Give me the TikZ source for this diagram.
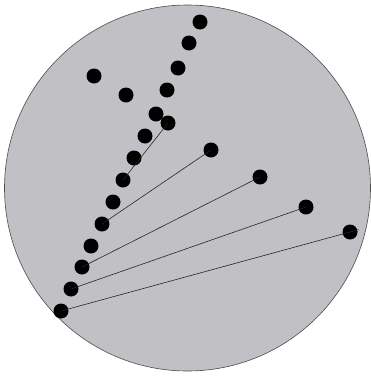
\documentclass[tikz,border=0pt]{standalone}
\usepackage{xcolor}
\usepackage{tikz}
\usetikzlibrary{calc}

\definecolor{discgray}{RGB}{193,193,197}

\begin{document}
\begin{tikzpicture}[
  x=1pt, y=-1pt,
  dot/.style={circle, fill=black, inner sep=0pt, minimum size=15pt},
  link/.style={black!85, line width=0.6pt},
]
\useasboundingbox (0,0) rectangle (371,378);

\fill[discgray, draw=black!70, line width=0.6pt] (187.5,188) circle[radius=183];

% chain of dots
\foreach \n/\x/\y in
  {A/200/22, B/189/43, C/178/68, D/167/90, E/156/114, F/168/123,
   G/145/136, H/134/158, I/123/180, L/113/202, M/102/224, N/91/246,
   O/82/267, P/71/289, Q/61/311}{
  \node[dot] (\n) at (\x,\y) {};
}

% loose dots
\foreach \n/\x/\y in
  {U/94/76, V/126/95, J/211/150, K/260/177, R/306/207, S/350/232}{
  \node[dot] (\n) at (\x,\y) {};
}

\draw[link] (F.center) -- (I.center);
\draw[link] (J.center) -- (M.center);
\draw[link] (K.center) -- (O.center);
\draw[link] (R.center) -- (P.center);
\draw[link] (Q.center) -- ($(Q.center)!1.03!(S.center)$);

\end{tikzpicture}
\end{document}
